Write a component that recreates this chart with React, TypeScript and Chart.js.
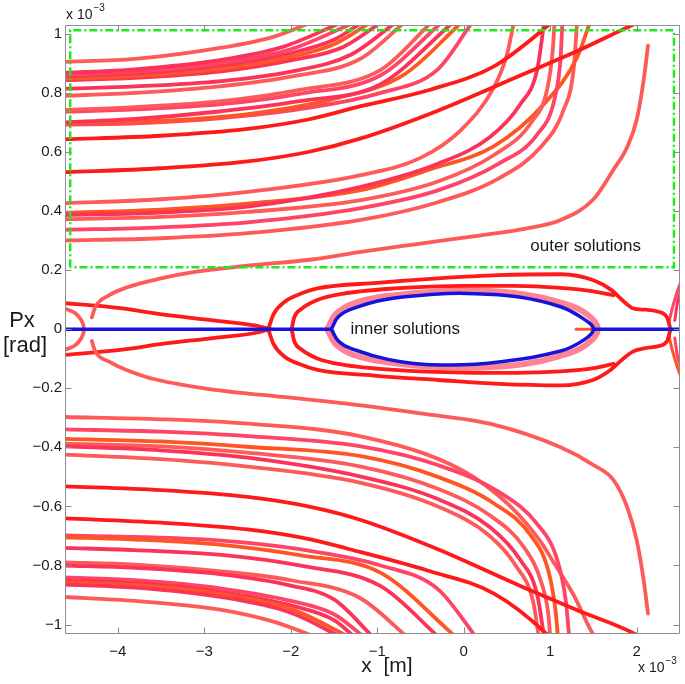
import React, { useEffect, useRef } from "react";
import { Chart, registerables } from "chart.js";

Chart.register(...registerables);

type Pt = [number, number];

// ---------- axes (values in units of 1e-3) ----------
const X_MIN = -4.61;
const X_MAX = 2.5;
const Y_MIN = -1.032;
const Y_MAX = 1.03;
const X_STEP = 1;
const Y_STEP = 0.2;

// ---------- dash-dot frame around the outer solutions ----------
const outerBox: Pt[] = [[-4.55, 0.21], [-4.55, 1.012], [2.43, 1.012], [2.43, 0.21], [-4.55, 0.21]];

// ---------- blue: axis line and inner ellipse ----------
const blueLeft: Pt[] = [[-4.65, 0], [-1.53, 0]];
const blueRight: Pt[] = [[1.5, 0], [2.55, 0]];
const blueEllipse: Pt[] = [
  [-1.53, 0], [-1.45, 0.042], [-1.3, 0.068], [-0.92, 0.1], [-0.34, 0.118], [0.04, 0.121], [0.62, 0.11],
  [1.12, 0.076], [1.39, 0.034], [1.5, 0], [1.39, -0.036], [1.12, -0.074], [0.43, -0.11], [-0.15, -0.121],
  [-0.73, -0.11], [-1.3, -0.066], [-1.45, -0.04], [-1.53, 0],
];
const pinkBand: Pt[] = [
  [-1.58, 0], [-1.46, 0.056], [-1.2, 0.094], [-0.8, 0.115], [-0.3, 0.128], [0.2, 0.13], [0.7, 0.118],
  [1.1, 0.092], [1.4, 0.056], [1.55, 0], [1.4, -0.056], [1.1, -0.092], [0.7, -0.118], [0.2, -0.13],
  [-0.3, -0.128], [-0.8, -0.115], [-1.2, -0.094], [-1.46, -0.056], [-1.58, 0],
];
const orangeStub: Pt[] = [[1.3, 0], [1.5, 0]];

// ---------- upper outer solutions ----------
const u01: Pt[] = [[-4.65, 0.905], [-3.8, 0.915], [-2.8, 0.953], [-2.2, 0.99], [-1.75, 1.04]];
const u02: Pt[] = [[-4.65, 0.868], [-3.8, 0.88], [-2.8, 0.912], [-2.1, 0.955], [-1.4, 1.04]];
const u03: Pt[] = [[-4.65, 0.861], [-3.8, 0.872], [-2.8, 0.902], [-2.0, 0.948], [-1.25, 1.04]];
const u04: Pt[] = [[-4.65, 0.856], [-3.8, 0.866], [-2.8, 0.893], [-2.0, 0.935], [-1.5, 0.98], [-1.17, 1.04]];
const u05: Pt[] = [[-4.65, 0.848], [-3.8, 0.857], [-2.8, 0.882], [-2.0, 0.922], [-1.5, 0.965], [-1.07, 1.04]];
const u06: Pt[] = [[-4.65, 0.843], [-3.8, 0.851], [-2.8, 0.873], [-2.0, 0.91], [-1.4, 0.955], [-0.95, 1.04]];
const u07: Pt[] = [[-4.65, 0.814], [-3.8, 0.822], [-2.8, 0.84], [-2.0, 0.872], [-1.3, 0.93], [-0.78, 1.04]];
const u08: Pt[] = [[-4.65, 0.79], [-3.8, 0.8], [-2.8, 0.823], [-2.0, 0.855], [-1.2, 0.915], [-0.68, 1.04]];
const u09: Pt[] = [[-4.65, 0.742], [-3.8, 0.752], [-2.8, 0.772], [-1.9, 0.81], [-0.96, 0.878], [-0.37, 1.04]];
const u10: Pt[] = [[-4.65, 0.736], [-3.8, 0.744], [-2.8, 0.762], [-1.9, 0.797], [-0.96, 0.86], [-0.25, 1.04]];
const u11: Pt[] = [[-4.65, 0.7], [-3.8, 0.712], [-2.8, 0.738], [-1.9, 0.772], [-0.96, 0.83], [-0.12, 1.04]];
const u12: Pt[] = [[-4.65, 0.698], [-3.8, 0.702], [-3.2, 0.71], [-2.5, 0.728], [-1.5, 0.78], [-0.7, 0.86], [-0.02, 1.04]];
const u13: Pt[] = [[-4.65, 0.693], [-3.8, 0.697], [-2.8, 0.715], [-1.9, 0.745], [-0.96, 0.8], [-0.3, 0.88], [0.1, 1.04]];
const s1u: Pt[] = [[-4.65, 0.643], [-3.5, 0.655], [-2.5, 0.678], [-1.8, 0.71], [-1.19, 0.755], [-0.4, 0.81], [0.35, 0.89], [0.97, 1.027], [1.02, 1.04]];
const s2u: Pt[] = [[-4.65, 0.531], [-3.5, 0.545], [-2.5, 0.568], [-1.8, 0.6], [-1.19, 0.646], [-0.3, 0.74], [0.66, 0.86], [1.3, 0.94], [1.93, 1.027], [2.0, 1.036]];
const b1u: Pt[] = [[-4.65, 0.426], [-3.5, 0.44], [-2.5, 0.465], [-1.19, 0.522], [-0.5, 0.58], [-0.03, 0.675], [0.35, 0.82], [0.5, 0.93], [0.58, 1.04]];
const b2u: Pt[] = [[-4.65, 0.386], [-3.5, 0.395], [-2.5, 0.415], [-1.19, 0.482], [-0.3, 0.56], [0.3, 0.65], [0.65, 0.76], [0.85, 0.88], [0.93, 1.04]];
const b3u: Pt[] = [[-4.65, 0.372], [-3.5, 0.38], [-2.5, 0.397], [-1.19, 0.437], [-0.3, 0.5], [0.35, 0.59], [0.78, 0.7], [0.97, 0.82], [1.03, 0.95], [1.05, 1.04]];
const b4u: Pt[] = [[-4.65, 0.336], [-3.5, 0.345], [-2.5, 0.362], [-1.19, 0.41], [-0.3, 0.47], [0.4, 0.56], [0.85, 0.66], [1.05, 0.78], [1.12, 0.92], [1.14, 1.04]];
const b5u: Pt[] = [[-4.65, 0.394], [-3.5, 0.405], [-2.5, 0.425], [-1.19, 0.471], [-0.4, 0.54], [0.35, 0.62], [0.92, 0.76], [1.31, 0.92], [1.46, 1.04]];
const b6u: Pt[] = [[-4.65, 0.3], [-3.5, 0.308], [-2.5, 0.325], [-1.19, 0.37], [-0.3, 0.43], [0.4, 0.51], [0.9, 0.62], [1.15, 0.74], [1.27, 0.88], [1.31, 1.04]];
const sepU: Pt[] = [
  [-4.3, 0.04], [-4.26, 0.075], [-4.1, 0.115], [-3.88, 0.143], [-3.5, 0.172], [-3.11, 0.194], [-2.5, 0.215],
  [-1.76, 0.236], [-1.19, 0.262], [-0.5, 0.29], [0.2, 0.318], [0.7, 0.34], [1.12, 0.37], [1.5, 0.44],
  [1.73, 0.54], [1.89, 0.617], [2.0, 0.71], [2.08, 0.844], [2.13, 0.96],
];

// ---------- lower outer solutions ----------
const l01: Pt[] = [[-4.65, -0.906], [-3.8, -0.92], [-2.8, -0.95], [-2.2, -0.99], [-1.68, -1.045]];
const l02: Pt[] = [[-4.65, -0.864], [-3.8, -0.875], [-2.8, -0.907], [-2.0, -0.96], [-1.4, -1.045]];
const l03: Pt[] = [[-4.65, -0.857], [-3.8, -0.867], [-2.8, -0.897], [-2.0, -0.947], [-1.3, -1.045]];
const l04: Pt[] = [[-4.65, -0.851], [-3.8, -0.86], [-2.8, -0.89], [-2.0, -0.935], [-1.5, -0.985], [-1.25, -1.045]];
const l05: Pt[] = [[-4.65, -0.84], [-3.8, -0.85], [-2.8, -0.878], [-2.0, -0.92], [-1.5, -0.965], [-1.14, -1.045]];
const l06: Pt[] = [[-4.65, -0.8], [-3.8, -0.808], [-2.8, -0.83], [-2.0, -0.868], [-1.5, -0.915], [-1.04, -1.045]];
const l07: Pt[] = [[-4.65, -0.789], [-3.8, -0.797], [-2.8, -0.82], [-2.0, -0.85], [-1.2, -0.91], [-0.64, -1.045]];
const l08: Pt[] = [[-4.65, -0.74], [-3.8, -0.748], [-2.8, -0.764], [-1.9, -0.8], [-0.96, -0.87], [-0.28, -1.045]];
const l09: Pt[] = [[-4.65, -0.704], [-3.8, -0.712], [-2.8, -0.73], [-1.9, -0.765], [-0.96, -0.825], [-0.08, -1.045]];
const l10: Pt[] = [[-4.65, -0.698], [-3.8, -0.703], [-2.8, -0.716], [-1.9, -0.745], [-0.96, -0.8], [-0.3, -0.88], [0.15, -1.045]];
const s1d: Pt[] = [[-4.65, -0.64], [-3.5, -0.655], [-2.5, -0.678], [-1.8, -0.71], [-1.19, -0.755], [-0.42, -0.817], [0.35, -0.895], [0.97, -1.035], [1.0, -1.045]];
const s2d: Pt[] = [[-4.65, -0.532], [-3.5, -0.545], [-2.5, -0.568], [-1.8, -0.6], [-1.19, -0.646], [-0.3, -0.745], [0.66, -0.87], [1.3, -0.95], [2.0, -1.035], [2.05, -1.045]];
const b1d: Pt[] = [[-4.65, -0.424], [-3.5, -0.44], [-2.5, -0.465], [-1.19, -0.52], [-0.3, -0.6], [0.3, -0.7], [0.6, -0.8], [0.8, -0.92], [0.87, -1.045]];
const b2d: Pt[] = [[-4.65, -0.396], [-3.5, -0.41], [-2.5, -0.435], [-1.19, -0.499], [-0.3, -0.575], [0.3, -0.67], [0.65, -0.78], [0.85, -0.9], [0.93, -1.045]];
const b3d: Pt[] = [[-4.65, -0.387], [-3.5, -0.397], [-2.5, -0.418], [-1.19, -0.465], [-0.3, -0.54], [0.3, -0.63], [0.7, -0.74], [0.9, -0.86], [0.98, -0.97], [1.0, -1.045]];
const b4d: Pt[] = [[-4.65, -0.371], [-3.5, -0.38], [-2.5, -0.398], [-1.19, -0.43], [-0.3, -0.5], [0.35, -0.59], [0.78, -0.7], [0.98, -0.82], [1.06, -0.95], [1.09, -1.045]];
const b5d: Pt[] = [[-4.65, -0.339], [-3.5, -0.347], [-2.5, -0.362], [-1.19, -0.397], [-0.3, -0.46], [0.4, -0.55], [0.85, -0.66], [1.08, -0.78], [1.18, -0.92], [1.22, -1.045]];
const b6d: Pt[] = [[-4.65, -0.297], [-3.5, -0.305], [-2.5, -0.32], [-1.19, -0.363], [-0.03, -0.476], [0.54, -0.6], [0.89, -0.72], [1.04, -0.79], [1.27, -0.9], [1.5, -1.035], [1.53, -1.045]];
const sepD: Pt[] = [
  [-4.3, -0.04], [-4.26, -0.075], [-4.1, -0.11], [-3.69, -0.16], [-3.0, -0.2], [-2.0, -0.232], [-1.19, -0.258],
  [-0.5, -0.285], [0.3, -0.32], [1.12, -0.4], [1.5, -0.46], [1.73, -0.51], [1.89, -0.603], [2.0, -0.715],
  [2.08, -0.85], [2.13, -0.963],
];

// ---------- separatrix structure near Px = 0 ----------
const loopAUp: Pt[] = [
  [-2.26, 0], [-2.2, 0.05], [-2.07, 0.093], [-1.9, 0.118], [-1.69, 0.138], [-1.0, 0.157], [-0.3, 0.172],
  [0.4, 0.183], [1.12, 0.186], [1.5, 0.166], [1.7, 0.134], [1.85, 0.094], [1.96, 0.07], [2.1, 0.066],
  [2.24, 0.06], [2.35, 0.04], [2.39, 0],
];
const loopADown: Pt[] = [
  [-2.26, 0], [-2.2, -0.05], [-2.07, -0.093], [-1.9, -0.118], [-1.69, -0.138], [-1.0, -0.158], [-0.3, -0.172],
  [0.4, -0.185], [1.12, -0.19], [1.5, -0.171], [1.7, -0.137], [1.85, -0.098], [1.96, -0.075], [2.1, -0.064],
  [2.24, -0.058], [2.35, -0.041], [2.39, 0],
];
const loopBUp: Pt[] = [[-1.99, 0], [-1.96, 0.04], [-1.88, 0.068], [-1.7, 0.098], [-1.4, 0.12], [-0.8, 0.138], [0, 0.147], [0.6, 0.147], [1.12, 0.14], [1.5, 0.128], [1.73, 0.115]];
const loopBDown: Pt[] = [[-1.99, 0], [-1.96, -0.04], [-1.88, -0.068], [-1.7, -0.098], [-1.4, -0.12], [-0.8, -0.138], [0, -0.147], [0.6, -0.148], [1.12, -0.143], [1.5, -0.132], [1.73, -0.117]];
const branchCUp: Pt[] = [[-4.65, 0.089], [-4.0, 0.072], [-3.49, 0.05], [-2.9, 0.03], [-2.4, 0.012], [-2.24, 0]];
const branchCDown: Pt[] = [[-4.65, -0.088], [-4.0, -0.071], [-3.49, -0.05], [-2.9, -0.03], [-2.4, -0.012], [-2.24, 0]];
const leftArc: Pt[] = [[-4.65, 0.073], [-4.5, 0.056], [-4.42, 0.03], [-4.39, 0], [-4.42, -0.03], [-4.5, -0.056], [-4.65, -0.073]];
const rightU1: Pt[] = [[2.37, 0.02], [2.41, 0.07], [2.45, 0.11], [2.52, 0.17]];
const rightU2: Pt[] = [[2.44, 0.03], [2.47, 0.09], [2.52, 0.14]];
const rightD1: Pt[] = [[2.37, -0.02], [2.41, -0.07], [2.45, -0.11], [2.52, -0.17]];
const rightD2: Pt[] = [[2.44, -0.03], [2.47, -0.09], [2.52, -0.14]];

// ---------- annotations ----------
const INNER_LABEL = "inner solutions";
const INNER_AT: Pt = [-1.31, 0];
const OUTER_LABEL = "outer solutions";
const OUTER_AT: Pt = [0.77, 0.28];
const X_TITLE = "x  [m]";
const Y_TITLE_1 = "Px";
const Y_TITLE_2 = "[rad]";
const EXP_BASE = "x 10";
const EXP_POW = "\u22123";

// ---------- styles ----------
const FONT = "'Liberation Sans', Arial, Helvetica, sans-serif";
const RED = "#ff1a1a";
const PINK = "#fc3358";
const SALMON = "#ff5a5a";
const ORANGE = "#ff5522";
const ROSE = "#ff4466";
const BLUE = "#1414dc";
const GREEN = "#1ee81e";
const AXIS_COLOR = "#8c8c8c";
const TEXT_COLOR = "#1a1a1a";
const TICK_LEN = 6;

type CurveSpec = { data: Pt[]; color: string; width?: number; mode?: "monotone" | "spline" };

const CURVES: CurveSpec[] = [
  { data: s1u, color: RED }, { data: s2u, color: RED }, { data: s1d, color: RED }, { data: s2d, color: RED },
  { data: u01, color: SALMON }, { data: u02, color: PINK }, { data: u03, color: ROSE }, { data: u04, color: PINK },
  { data: u05, color: ORANGE }, { data: u06, color: PINK }, { data: u07, color: PINK }, { data: u08, color: SALMON },
  { data: u09, color: SALMON }, { data: u10, color: ROSE }, { data: u11, color: PINK }, { data: u12, color: ORANGE },
  { data: u13, color: ROSE },
  { data: b1u, color: SALMON }, { data: b2u, color: PINK }, { data: b3u, color: SALMON }, { data: b4u, color: ROSE },
  { data: b5u, color: ORANGE }, { data: b6u, color: SALMON }, { data: sepU, color: SALMON },
  { data: l01, color: SALMON }, { data: l02, color: PINK }, { data: l03, color: ORANGE }, { data: l04, color: PINK },
  { data: l05, color: ROSE }, { data: l06, color: PINK }, { data: l07, color: SALMON }, { data: l08, color: PINK },
  { data: l09, color: ORANGE }, { data: l10, color: ROSE },
  { data: b1d, color: SALMON }, { data: b2d, color: PINK }, { data: b3d, color: SALMON }, { data: b4d, color: ORANGE },
  { data: b5d, color: ROSE }, { data: b6d, color: SALMON }, { data: sepD, color: SALMON },
  { data: loopAUp, color: RED }, { data: loopADown, color: RED }, { data: loopBUp, color: RED }, { data: loopBDown, color: RED },
  { data: branchCUp, color: RED }, { data: branchCDown, color: RED },
  { data: leftArc, color: SALMON, mode: "spline" },
  { data: rightU1, color: ROSE, width: 3 }, { data: rightU2, color: PINK, width: 3 },
  { data: rightD1, color: ORANGE, width: 3 }, { data: rightD2, color: ROSE, width: 3 },
];

const toXY = (pts: Pt[]) => pts.map(([x, y]) => ({ x, y }));

const minusFmt = (n: number) => (n < 0 ? "\u2212" + String(Math.abs(n)) : String(n));

const decorPlugin = {
  id: "decor",
  afterDraw(chart: any) {
    const { ctx, chartArea: a, scales } = chart;
    const xs = scales.x;
    const ys = scales.y;
    ctx.save();
    ctx.strokeStyle = AXIS_COLOR;
    ctx.lineWidth = 1;
    const L = Math.round(a.left) + 0.5;
    const R = Math.round(a.right) - 0.5;
    const T = Math.round(a.top) + 0.5;
    const B = Math.round(a.bottom) - 0.5;
    ctx.beginPath();
    ctx.rect(L, T, R - L, B - T);
    for (const t of xs.ticks) {
      const px = Math.round(xs.getPixelForValue(t.value)) + 0.5;
      ctx.moveTo(px, B);
      ctx.lineTo(px, B - TICK_LEN);
      ctx.moveTo(px, T);
      ctx.lineTo(px, T + TICK_LEN);
    }
    for (const t of ys.ticks) {
      const py = Math.round(ys.getPixelForValue(t.value)) + 0.5;
      ctx.moveTo(L, py);
      ctx.lineTo(L + TICK_LEN, py);
      ctx.moveTo(R, py);
      ctx.lineTo(R - TICK_LEN, py);
    }
    ctx.stroke();

    ctx.fillStyle = TEXT_COLOR;
    ctx.textBaseline = "middle";
    ctx.textAlign = "left";
    ctx.font = `17px ${FONT}`;
    ctx.fillText(INNER_LABEL, xs.getPixelForValue(INNER_AT[0]), ys.getPixelForValue(INNER_AT[1]));
    ctx.fillText(OUTER_LABEL, xs.getPixelForValue(OUTER_AT[0]), ys.getPixelForValue(OUTER_AT[1]));

    // axis titles
    ctx.textBaseline = "alphabetic";
    ctx.textAlign = "center";
    ctx.font = `21px ${FONT}`;
    ctx.fillText(X_TITLE, 387, 672);
    ctx.font = `22px ${FONT}`;
    ctx.fillText(Y_TITLE_1, 22, 327);
    ctx.fillText(Y_TITLE_2, 25, 352);

    // exponent labels
    ctx.textAlign = "left";
    const drawExp = (x: number, y: number) => {
      ctx.font = `14px ${FONT}`;
      ctx.fillText(EXP_BASE, x, y);
      const w = ctx.measureText(EXP_BASE).width;
      ctx.font = `10px ${FONT}`;
      ctx.fillText(EXP_POW, x + w + 1, y - 8);
    };
    drawExp(a.left + 1, a.top - 6);
    drawExp(638, 672);
    ctx.restore();
  },
};

export default function App() {
  const ref = useRef<HTMLCanvasElement | null>(null);

  useEffect(() => {
    document.body.style.margin = "0";
    const canvas = ref.current;
    if (!canvas) return;

    const line = (pts: Pt[], color: string, width: number, mode: "monotone" | "spline" | "straight", extra: any = {}) => ({
      data: toXY(pts),
      showLine: true,
      borderColor: color,
      backgroundColor: color,
      borderWidth: width,
      pointRadius: 0,
      fill: false,
      tension: mode === "straight" ? 0 : 0.4,
      cubicInterpolationMode: mode === "monotone" ? "monotone" : "default",
      borderCapStyle: "round",
      borderJoinStyle: "round",
      ...extra,
    });

    const datasets: any[] = [
      line(outerBox, GREEN, 2.5, "straight", { borderDash: [8, 3, 2, 3], borderCapStyle: "butt", borderJoinStyle: "miter" }),
      line(blueLeft, BLUE, 3.5, "straight"),
      line(blueRight, BLUE, 3.5, "straight"),
      line(blueEllipse, BLUE, 3.5, "spline"),
      ...CURVES.map((c) => line(c.data, c.color, c.width ?? 3.8, c.mode ?? "monotone")),
      line(orangeStub, ORANGE, 3, "straight"),
      line(pinkBand, "rgba(255,90,110,0.75)", 6, "spline"),
    ];

    const chart = new Chart(canvas, {
      type: "scatter",
      data: { datasets },
      options: {
        animation: false,
        responsive: false,
        devicePixelRatio: 1,
        events: [],
        layout: { padding: { left: 0, right: 5, top: 25, bottom: 0 } },
        plugins: { legend: { display: false }, tooltip: { enabled: false }, title: { display: false } },
        elements: { point: { radius: 0 }, line: { capBezierPoints: false } },
        scales: {
          x: {
            type: "linear",
            min: X_MIN,
            max: X_MAX,
            grid: { display: false, drawTicks: false },
            border: { display: false },
            ticks: {
              stepSize: X_STEP,
              includeBounds: false,
              autoSkip: false,
              maxRotation: 0,
              padding: 9,
              color: TEXT_COLOR,
              font: { family: FONT, size: 15 },
              callback: (v: any) => minusFmt(Math.round(Number(v))),
            },
            afterFit: (s: any) => {
              s.height = 50;
            },
          },
          y: {
            type: "linear",
            min: Y_MIN,
            max: Y_MAX,
            grid: { display: false, drawTicks: false },
            border: { display: false },
            ticks: {
              stepSize: Y_STEP,
              includeBounds: false,
              autoSkip: false,
              padding: 3,
              color: TEXT_COLOR,
              font: { family: FONT, size: 15 },
              callback: (v: any) => minusFmt(Math.round(Number(v) * 10) / 10),
            },
            afterFit: (s: any) => {
              s.width = 65;
            },
          },
        },
      } as any,
      plugins: [decorPlugin],
    });

    return () => chart.destroy();
  }, []);

  return (
    <div style={{ width: 685, height: 684, background: "#fff" }}>
      <canvas ref={ref} width={685} height={684} style={{ display: "block" }} />
    </div>
  );
}
